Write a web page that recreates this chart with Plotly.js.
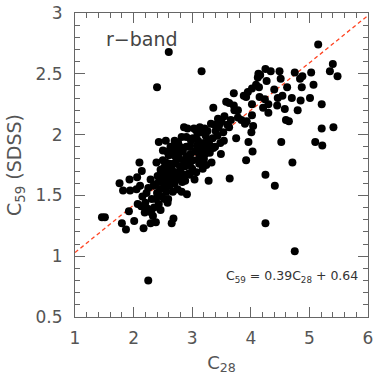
<!DOCTYPE html>
<html>
<head>
<meta charset="utf-8">
<script src="https://cdn.plot.ly/plotly-3.0.1.min.js"></script>
<style>
  html, body { margin: 0; padding: 0; background: #fff; }
  #chart { width: 374px; height: 379px; }
</style>
</head>
<body>
<div id="chart"></div>
<script>
// C28 (x) and C59 (y)
const c28 = [
  2.60, 3.16, 2.40, 5.15, 2.25, 4.75, 4.25, 4.25, 4.41, 4.71,
  3.64, 3.28, 3.75, 3.92, 4.03, 3.96, 4.52, 5.10, 5.22, 5.21,
  5.41, 5.21, 5.40, 5.35, 5.48, 5.03, 5.07, 5.01, 4.87, 4.85,
  4.80, 4.75, 4.88, 4.84, 4.70, 4.62, 4.60, 4.65, 4.58, 4.54,
  4.45, 4.49, 4.51, 4.46, 4.25, 4.34, 4.27, 4.14, 4.15, 4.21,
  4.30, 4.24, 4.13, 4.16, 4.12, 4.09, 4.02, 4.02, 4.02, 4.04,
  4.01, 3.92, 3.88, 3.71, 3.71, 3.72, 3.58, 3.63, 3.78, 3.84,
  3.90, 3.93, 3.60, 3.63, 3.50, 3.36, 3.47, 3.54, 3.49, 3.39,
  3.32, 3.21, 3.13, 3.06, 2.86, 2.90, 2.82, 2.70, 2.55, 2.43,
  2.50, 2.50, 2.39, 2.67, 2.79, 2.90,
  1.46, 1.51, 1.76, 1.82, 1.93, 1.94, 2.05, 1.80, 1.87, 1.92,
  2.01, 2.10, 2.06, 2.14, 2.07, 2.13, 2.17, 2.19, 2.22, 2.24,
  2.30, 2.29, 2.38, 2.33, 2.46, 2.38, 2.29, 2.34, 2.43, 2.65,
  2.68, 2.48, 2.56, 2.53, 2.59, 2.62, 2.67, 2.58, 2.82, 2.91,
  3.04, 2.96, 2.83, 2.73, 2.79, 2.65, 2.73, 2.90, 3.01, 3.18,
  3.24, 3.33, 3.30, 3.18, 3.10, 3.23, 3.16, 3.01, 2.96,
  2.46, 2.52, 2.58, 2.62, 2.68, 2.71, 2.76, 2.84, 2.88, 2.93,
  2.97, 3.05, 3.08, 3.13, 3.20, 3.26, 3.28, 3.35, 3.40, 3.45,
  3.38, 3.26, 3.09, 3.03, 2.98, 2.92, 2.76, 2.60, 2.55, 2.41,
  2.36, 2.45, 2.52, 2.70, 2.75, 2.86, 2.80, 2.88, 3.00, 3.12,
  3.07, 2.63, 2.57, 2.49, 2.66, 2.85, 2.96, 3.15, 3.22, 3.36,
  3.43, 3.53, 3.48, 3.20, 2.74, 2.61, 2.52, 2.40, 2.31, 2.20,
  2.15, 2.43, 2.35, 2.55, 2.69,
  3.78, 3.66, 3.55, 3.44, 4.30, 4.40, 3.95,
  2.11, 2.25, 2.47, 2.64, 2.78, 2.94, 3.11, 3.29, 2.57, 2.72
];
const c59 = [
  2.68, 2.52, 2.39, 2.74, 0.80, 1.04, 1.27, 1.67, 1.58, 1.77,
  1.64, 1.62, 1.97, 1.79, 1.86, 1.94, 1.94, 1.94, 1.91, 2.05,
  2.06, 2.25, 2.58, 2.52, 2.48, 2.51, 2.41, 2.30, 2.39, 2.28,
  2.20, 2.51, 2.48, 2.46, 2.30, 2.39, 2.12, 2.11, 2.21, 2.32,
  2.24, 2.52, 2.46, 2.30, 2.54, 2.52, 2.44, 2.39, 2.31, 2.22,
  2.18, 2.29, 2.50, 2.49, 2.47, 2.41, 2.38, 2.25, 2.16, 2.07,
  2.02, 2.31, 2.32, 2.34, 2.24, 2.20, 2.27, 2.26, 2.14, 2.12,
  2.09, 2.11, 2.08, 2.06, 2.11, 2.22, 2.09, 1.95, 1.84, 1.90,
  2.09, 2.05, 2.06, 2.04, 2.06, 1.98, 1.98, 1.95, 1.95, 1.94,
  1.87, 1.79, 1.77, 1.88, 1.90, 1.90,
  1.32, 1.32, 1.60, 1.54, 1.63, 1.54, 1.55, 1.27, 1.22, 1.37,
  1.29, 1.77, 1.65, 1.70, 1.43, 1.41, 1.23, 1.36, 1.52, 1.39,
  1.36, 1.27, 1.28, 1.33, 1.38, 1.47, 1.63, 1.58, 1.61, 1.27,
  1.31, 1.49, 1.53, 1.47, 1.47, 1.58, 1.53, 1.44, 1.53, 1.51,
  1.63, 1.67, 1.61, 1.63, 1.74, 1.72, 1.79, 1.82, 1.79, 1.72,
  1.75, 1.77, 1.85, 1.90, 1.95, 1.99, 2.02, 1.97, 1.90,
  1.71, 1.68, 1.65, 1.70, 1.76, 1.69, 1.82, 1.86, 1.74, 1.78,
  1.84, 1.86, 1.91, 1.83, 1.80, 1.87, 1.95, 1.97, 2.03, 2.06,
  2.08, 2.03, 2.01, 2.05, 1.95, 2.05, 1.93, 1.83, 1.77, 1.66,
  1.59, 1.55, 1.59, 1.60, 1.55, 1.67, 1.70, 1.62, 1.72, 1.76,
  1.69, 1.90, 1.62, 1.63, 1.66, 1.79, 1.75, 1.88, 1.84, 1.89,
  1.99, 2.02, 1.93, 1.93, 1.86, 1.76, 1.73, 1.52, 1.47, 1.44,
  1.49, 1.43, 1.40, 1.57, 1.83,
  2.20, 2.12, 2.15, 2.13, 2.25, 2.37, 2.35,
  1.58, 1.56, 1.66, 1.62, 1.66, 1.68, 1.80, 1.92, 1.86, 1.92
];

// fit: C59 = 0.39 C28 + 0.64
const slope = 0.39;
const intercept = 0.64;
const fitX = [1, 6];
const fitY = fitX.map(x => slope * x + intercept);

const traces = [
  {
    x: fitX, y: fitY,
    type: 'scatter', mode: 'lines',
    line: { color: '#ff4422', width: 1.3, dash: '4px,3px' },
    hoverinfo: 'skip',
  },
  {
    x: c28, y: c59,
    type: 'scatter', mode: 'markers',
    marker: { color: '#000', size: 8 },
  },
];

const axisCommon = {
  showgrid: false,
  zeroline: false,
  showline: true,
  linecolor: '#666',
  linewidth: 1,
  mirror: 'ticks',
  ticks: 'inside',
  ticklen: 10,
  tickcolor: '#666',
  tickfont: { family: 'DejaVu Sans, sans-serif', size: 17, color: '#555' },
};

const layout = {
  width: 374,
  height: 379,
  margin: { t: 13, r: 6, b: 62, l: 75 },
  paper_bgcolor: '#fff',
  plot_bgcolor: '#fff',
  showlegend: false,
  xaxis: Object.assign({}, axisCommon, {
    range: [1, 6],
    dtick: 1,
    minor: { dtick: 0.2, ticks: 'inside', ticklen: 5, tickcolor: '#666' },
    ticklabelstandoff: 6,
    title: {
      text: 'C<sub>28</sub>',
      font: { family: 'DejaVu Sans, sans-serif', size: 18, color: '#555' },
      standoff: 8,
    },
  }),
  yaxis: Object.assign({}, axisCommon, {
    range: [0.5, 3],
    dtick: 0.5,
    minor: { dtick: 0.1, ticks: 'inside', ticklen: 5, tickcolor: '#666' },
    ticklabelstandoff: 8,
    title: {
      text: 'C<sub>59</sub> (SDSS)',
      font: { family: 'DejaVu Sans, sans-serif', size: 19, color: '#555' },
      standoff: 8,
    },
  }),
  annotations: [
    {
      x: 1.5, y: 2.79, xref: 'x', yref: 'y',
      xanchor: 'left', yanchor: 'middle',
      text: 'r\u2212band', showarrow: false,
      font: { family: 'DejaVu Sans, sans-serif', size: 19, color: '#444' },
    },
    {
      x: 5.87, y: 0.83, xref: 'x', yref: 'y',
      xanchor: 'right', yanchor: 'middle',
      text: 'C<sub>59</sub> = 0.39C<sub>28</sub> + 0.64', showarrow: false,
      font: { family: 'DejaVu Sans, sans-serif', size: 12.5, color: '#333' },
    },
  ],
};

Plotly.newPlot('chart', traces, layout, { displayModeBar: false, staticPlot: true });
</script>
</body>
</html>
